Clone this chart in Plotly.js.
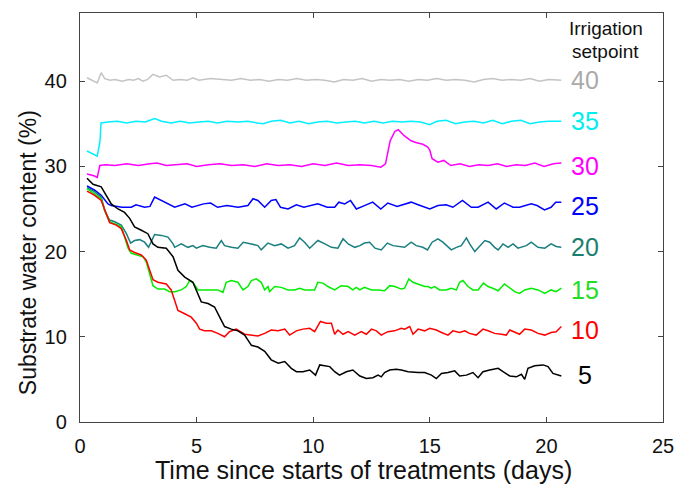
<!DOCTYPE html>
<html>
<head>
<meta charset="utf-8">
<script src="https://cdn.plot.ly/plotly-3.0.1.min.js"></script>
<style>html,body{margin:0;padding:0;background:#fff;}#chart{width:694px;height:492px;}</style>
</head>
<body>
<div id="chart"></div>
<script>
// Irrigation setpoints (labels) and colours
const setpoints = ["40", "35", "30", "25", "20", "15", "10", "5"];
const labelY = [40.1, 35.3, 30.1, 25.3, 20.5, 15.5, 10.8, 5.5];
const xTicks = [0, 5, 10, 15, 20, 25];
const yTicks = [0, 10, 20, 30, 40];
const xTitle = "Time since starts of treatments (days)";
const yTitle = "Substrate water content (%)";

// [time (days), substrate water content (%)]
const sp40 = [[0.3,40.4],[0.56,40.1],[0.74,39.8],[0.91,41.0],[1.06,40.3],[1.3,40.1],[1.5,40.2],[1.8,40.0],[2.1,40.2],[2.3,40.1],[2.5,40.3],[2.7,40.0],[2.9,40.2],[3.13,40.8],[3.41,40.5],[3.7,40.7],[3.99,40.1],[4.3,40.2],[4.6,40.1],[4.84,40.4],[5.1,40.1],[5.6,40.3],[6.1,40.2],[6.5,40.1],[6.9,40.3],[7.3,40.1],[7.7,40.2],[8.1,40.0],[8.5,40.2],[8.9,40.1],[9.3,40.3],[9.7,40.1],[10.1,40.2],[10.5,40.1],[10.9,39.9],[11.3,40.2],[11.7,40.1],[12.1,40.3],[12.5,40.0],[12.9,40.2],[13.3,40.1],[13.7,40.2],[14.1,40.0],[14.5,40.2],[14.9,40.1],[15.3,40.3],[15.7,40.1],[16.1,40.2],[16.5,40.1],[16.9,39.9],[17.3,40.2],[17.7,40.3],[18.1,40.1],[18.5,40.2],[18.9,40.1],[19.3,40.3],[19.7,40.0],[20.1,40.2],[20.64,40.1]];

const sp35 = [[0.3,31.8],[0.5,31.5],[0.74,31.2],[0.86,33.0],[0.9,35.1],[1.2,35.2],[1.6,35.3],[2.0,35.1],[2.4,35.3],[2.8,35.2],[3.2,35.6],[3.5,35.3],[3.9,35.1],[4.3,35.3],[4.7,35.1],[5.1,35.2],[5.5,35.3],[5.9,35.1],[6.3,35.3],[6.8,35.2],[7.2,35.3],[7.6,35.1],[7.85,35.0],[8.2,35.3],[8.6,35.4],[9.0,35.1],[9.4,35.3],[9.8,35.0],[10.2,35.2],[10.6,35.3],[11.0,35.1],[11.4,35.2],[11.8,35.3],[12.2,35.1],[12.6,35.3],[13.0,35.1],[13.4,35.3],[13.8,35.2],[14.2,35.3],[14.6,35.2],[15.0,34.9],[15.3,35.3],[15.7,35.4],[16.1,35.0],[16.5,35.2],[16.9,35.3],[17.3,35.1],[17.7,35.4],[18.1,35.0],[18.5,35.3],[18.9,35.4],[19.3,35.0],[19.7,35.2],[20.1,35.3],[20.64,35.3]];

const sp30 = [[0.3,29.1],[0.6,28.9],[0.74,28.7],[0.85,30.1],[1.1,30.2],[1.5,30.1],[2.0,30.3],[2.5,30.1],[3.0,30.3],[3.3,30.4],[3.7,30.1],[4.2,30.2],[4.6,30.3],[5.0,30.0],[5.5,30.2],[6.0,30.3],[6.5,30.1],[7.0,30.2],[7.5,30.0],[8.0,30.3],[8.5,30.1],[9.0,30.2],[9.5,30.0],[10.0,30.3],[10.5,30.1],[11.0,30.4],[11.5,30.1],[12.0,30.2],[12.5,30.1],[12.9,29.9],[13.1,30.3],[13.3,33.0],[13.5,34.1],[13.65,34.3],[13.9,33.6],[14.2,33.0],[14.4,32.8],[14.7,32.6],[14.9,32.3],[15.0,31.9],[15.1,30.9],[15.35,30.5],[15.6,30.7],[15.9,30.1],[16.3,30.3],[16.7,30.0],[17.1,30.2],[17.5,30.1],[17.9,30.3],[18.3,30.0],[18.7,30.2],[19.1,30.1],[19.5,30.4],[19.9,30.0],[20.3,30.3],[20.64,30.4]];

const sp25 = [[0.3,27.7],[0.63,27.2],[0.91,26.6],[1.2,25.6],[1.34,25.4],[1.8,25.2],[2.2,25.2],[2.4,25.5],[2.77,25.2],[3.0,25.3],[3.2,26.4],[3.6,25.8],[4.06,25.2],[4.5,25.6],[4.8,25.2],[5.3,25.6],[5.6,25.7],[5.9,25.2],[6.3,25.4],[6.78,25.2],[7.2,25.4],[7.42,26.2],[7.63,26.0],[7.92,25.2],[8.2,26.0],[8.4,26.1],[8.6,25.2],[8.92,25.0],[9.28,25.5],[9.6,25.2],[10.2,25.6],[10.6,25.2],[10.92,25.2],[11.1,25.8],[11.35,25.6],[11.6,26.0],[11.85,25.0],[12.2,25.4],[12.55,25.8],[12.9,25.0],[13.2,25.7],[13.6,25.3],[14.2,25.8],[14.5,25.5],[15.0,25.0],[15.35,25.4],[15.7,25.5],[15.99,25.2],[16.4,26.0],[16.78,25.2],[17.07,25.2],[17.5,25.8],[17.85,25.0],[18.2,25.7],[18.57,25.2],[18.85,25.2],[19.35,25.6],[19.6,25.4],[19.92,24.9],[20.2,25.2],[20.4,25.8],[20.64,25.8]];

const sp20 = [[0.3,27.5],[0.63,27.0],[0.91,26.4],[1.06,24.8],[1.27,23.7],[1.49,23.5],[1.77,23.1],[1.99,22.1],[2.17,21.0],[2.34,21.3],[2.56,21.4],[2.77,21.1],[2.94,20.5],[3.2,22.0],[3.49,21.9],[3.77,21.7],[3.99,20.9],[4.06,20.5],[4.34,20.9],[4.63,20.5],[4.84,20.7],[4.99,20.4],[5.27,20.7],[5.56,20.5],[5.84,20.4],[6.06,21.3],[6.2,20.7],[6.49,20.5],[6.77,20.4],[7.0,21.1],[7.35,20.9],[7.63,20.7],[7.77,20.2],[8.06,21.0],[8.35,20.7],[8.63,20.9],[8.92,20.4],[9.2,20.7],[9.42,21.6],[9.63,21.1],[9.85,20.4],[10.2,21.3],[10.5,20.9],[10.78,20.5],[11.06,20.4],[11.28,21.5],[11.5,20.9],[11.78,20.5],[12.0,20.7],[12.2,21.0],[12.42,21.1],[12.65,20.4],[12.92,20.2],[13.18,21.0],[13.42,20.7],[13.78,20.5],[13.92,20.5],[14.2,21.1],[14.42,20.7],[14.7,20.5],[14.9,20.2],[15.1,21.1],[15.35,21.5],[15.56,21.1],[15.78,20.5],[15.92,20.2],[16.14,20.5],[16.35,20.7],[16.57,21.6],[16.71,20.9],[16.93,20.0],[17.14,20.7],[17.36,21.3],[17.57,21.1],[17.78,20.5],[17.93,20.2],[18.14,20.9],[18.36,20.5],[18.57,20.9],[18.78,20.4],[19.14,20.7],[19.35,21.1],[19.64,20.5],[19.93,20.4],[20.2,20.9],[20.42,20.6],[20.64,20.5]];

const sp15 = [[0.3,27.4],[0.63,26.8],[0.91,26.2],[1.06,24.8],[1.27,23.5],[1.56,23.2],[1.77,22.9],[1.91,21.7],[2.06,20.4],[2.2,19.8],[2.49,19.6],[2.7,19.4],[2.84,18.8],[2.99,17.4],[3.13,16.0],[3.34,15.6],[3.63,15.6],[3.84,15.3],[4.06,15.3],[4.34,15.5],[4.56,15.9],[4.7,16.6],[4.84,16.4],[5.06,15.5],[5.34,15.5],[5.63,15.5],[5.91,15.5],[6.13,15.2],[6.27,16.4],[6.49,16.6],[6.77,16.4],[6.99,15.5],[7.2,15.9],[7.35,16.6],[7.56,16.8],[7.77,16.4],[7.92,15.5],[8.06,15.9],[8.13,15.3],[8.35,15.9],[8.63,15.8],[8.92,15.5],[9.2,15.5],[9.42,15.7],[9.63,15.5],[9.85,15.5],[10.06,15.5],[10.2,16.4],[10.42,16.3],[10.63,15.9],[10.92,15.5],[11.2,16.0],[11.5,15.9],[11.7,15.5],[11.85,15.8],[12.0,15.5],[12.2,15.8],[12.5,15.5],[12.78,15.5],[13.06,15.4],[13.28,16.0],[13.5,15.9],[13.78,15.6],[13.92,15.7],[14.1,16.8],[14.28,16.4],[14.5,16.2],[14.78,15.9],[14.92,15.9],[15.07,15.7],[15.21,15.9],[15.42,15.5],[15.7,15.5],[15.92,15.7],[16.14,15.5],[16.28,16.4],[16.42,16.6],[16.64,15.9],[16.85,15.5],[17.07,15.5],[17.3,16.3],[17.5,15.9],[17.7,15.7],[17.93,15.4],[18.2,16.2],[18.43,15.7],[18.64,15.3],[18.85,15.1],[19.07,15.5],[19.35,15.7],[19.64,15.5],[19.93,15.1],[20.2,15.5],[20.42,15.3],[20.64,15.7]];

const sp10 = [[0.3,27.1],[0.63,26.6],[0.91,26.0],[1.13,24.5],[1.27,23.4],[1.56,23.1],[1.77,22.7],[1.99,21.3],[2.13,20.2],[2.34,19.9],[2.63,19.6],[2.84,19.0],[2.99,17.7],[3.13,16.7],[3.34,16.4],[3.7,16.2],[3.91,15.5],[4.06,14.3],[4.2,13.1],[4.49,12.7],[4.77,12.3],[4.99,11.6],[5.13,10.9],[5.34,10.7],[5.63,10.7],[5.91,10.4],[6.2,10.0],[6.41,10.6],[6.7,10.9],[7.06,10.3],[7.35,10.2],[7.63,10.1],[7.92,10.4],[8.2,10.8],[8.5,10.7],[8.78,10.9],[8.99,10.2],[9.28,10.7],[9.56,10.9],[9.85,11.0],[10.06,10.6],[10.17,11.2],[10.31,11.8],[10.56,11.6],[10.78,11.6],[10.92,10.3],[11.06,10.8],[11.28,10.3],[11.5,10.6],[11.78,10.2],[12.06,10.6],[12.28,10.3],[12.5,10.9],[12.71,10.7],[12.92,10.2],[13.2,10.6],[13.49,10.7],[13.78,11.0],[13.92,10.9],[14.14,11.2],[14.28,10.3],[14.5,10.9],[14.78,10.7],[15.0,11.0],[15.28,10.8],[15.5,10.5],[15.78,10.2],[15.99,10.7],[16.28,10.5],[16.5,10.7],[16.7,10.4],[16.99,10.2],[17.28,10.9],[17.5,10.7],[17.78,10.4],[18.07,10.3],[18.28,10.2],[18.43,10.8],[18.64,10.5],[18.85,10.3],[19.07,10.9],[19.35,10.8],[19.64,10.4],[19.93,10.2],[20.2,10.5],[20.42,10.6],[20.64,11.2]];

const sp5 = [[0.3,28.6],[0.56,27.9],[0.91,27.6],[1.13,26.6],[1.34,25.6],[1.63,25.0],[1.91,24.6],[2.13,23.9],[2.34,22.9],[2.63,22.5],[2.91,22.1],[3.13,20.9],[3.34,20.5],[3.7,20.4],[3.99,19.4],[4.2,17.8],[4.49,17.0],[4.84,16.4],[5.06,15.1],[5.2,14.1],[5.49,13.9],[5.77,13.5],[5.99,12.3],[6.2,11.2],[6.49,10.9],[6.77,10.7],[7.06,10.2],[7.35,9.0],[7.63,8.8],[7.92,8.3],[8.2,7.3],[8.5,6.9],[8.78,7.1],[9.06,6.3],[9.28,5.9],[9.56,5.9],[9.85,6.1],[9.99,5.7],[10.1,5.5],[10.28,6.7],[10.5,6.6],[10.71,6.5],[10.92,5.9],[11.13,5.5],[11.42,5.9],[11.7,6.1],[12.0,5.4],[12.28,5.1],[12.56,5.2],[12.78,5.5],[12.92,5.3],[13.06,5.8],[13.28,6.1],[13.56,6.2],[13.78,6.1],[14.07,5.9],[14.5,5.8],[14.78,5.8],[15.07,5.5],[15.28,5.1],[15.5,5.7],[15.78,5.8],[16.07,6.0],[16.28,5.4],[16.57,5.5],[16.85,5.8],[17.07,5.2],[17.28,5.9],[17.57,6.1],[17.93,6.3],[18.14,5.9],[18.43,5.4],[18.71,5.3],[18.93,5.6],[19.07,5.0],[19.21,6.3],[19.5,6.6],[19.86,6.7],[20.07,6.5],[20.28,5.7],[20.64,5.4]];

const seriesData = [sp40, sp35, sp30, sp25, sp20, sp15, sp10, sp5];
const lineColors = ["#c4c4c4", "#00f0ff", "#ff00ff", "#0000ff", "#1a7f7f", "#00ee00", "#ff0000", "#000000"];
const labelColors = ["#aaaaaa", "#00eeee", "#ff00ff", "#0000ff", "#1a7f6f", "#22dd22", "#ff0000", "#000000"];

const FONT = "Liberation Sans, Arial, sans-serif";

const traces = seriesData.map((pts, i) => ({
  type: "scatter",
  mode: "lines",
  x: pts.map(p => p[0]),
  y: pts.map(p => p[1]),
  line: {color: lineColors[i], width: 1.5},
  name: setpoints[i],
  hoverinfo: "skip"
}));

const annotations = setpoints.map((s, i) => ({
  x: 21.65, y: labelY[i], xref: "x", yref: "y",
  text: s, showarrow: false, xanchor: "center", yanchor: "middle",
  font: {family: FONT, size: 25, color: labelColors[i]}
}));
annotations.push({
  x: 22.55, y: 46.2, xref: "x", yref: "y",
  text: "Irrigation", showarrow: false, xanchor: "center", yanchor: "middle",
  font: {family: FONT, size: 19, color: "#111"}
});
annotations.push({
  x: 22.55, y: 43.5, xref: "x", yref: "y",
  text: "setpoint", showarrow: false, xanchor: "center", yanchor: "middle",
  font: {family: FONT, size: 19, color: "#111"}
});
// axis titles (placed as in the original figure)
annotations.push({
  x: 0.487, y: -0.117, xref: "paper", yref: "paper",
  text: xTitle, showarrow: false, xanchor: "center", yanchor: "middle",
  font: {family: FONT, size: 25, color: "#111"}
});
annotations.push({
  x: -0.089, y: 0.413, xref: "paper", yref: "paper",
  text: yTitle, showarrow: false, xanchor: "center", yanchor: "middle", textangle: -90,
  font: {family: FONT, size: 23, color: "#111"}
});

const layout = {
  width: 694, height: 492,
  margin: {l: 80, r: 31, t: 13, b: 70},
  paper_bgcolor: "#fff", plot_bgcolor: "#fff",
  showlegend: false,
  font: {family: FONT, color: "#111"},
  xaxis: {
    range: [0, 25], tickvals: xTicks, ticktext: xTicks.map(String),
    ticks: "inside", ticklen: 5, tickcolor: "#444", tickwidth: 1,
    showline: true, linecolor: "#444", linewidth: 1.2, mirror: "ticks",
    showgrid: false, zeroline: false,
    tickfont: {family: FONT, size: 20, color: "#111"},
    ticklabelstandoff: 6
  },
  yaxis: {
    range: [0, 48], tickvals: yTicks, ticktext: yTicks.map(String),
    ticks: "inside", ticklen: 5, tickcolor: "#444", tickwidth: 1,
    showline: true, linecolor: "#444", linewidth: 1.2, mirror: "ticks",
    showgrid: false, zeroline: false,
    tickfont: {family: FONT, size: 20, color: "#111"},
    ticklabelstandoff: 8
  },
  annotations: annotations
};

Plotly.newPlot("chart", traces, layout, {staticPlot: true, displayModeBar: false});
</script>
</body>
</html>
